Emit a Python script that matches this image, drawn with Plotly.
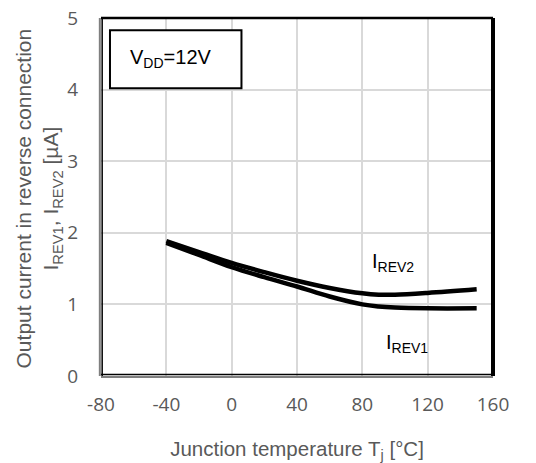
import plotly.graph_objects as go

# Junction temperature [°C]
temp = [-40, -20, 0, 20, 40, 60, 80, 90, 100, 120, 150]
# Reverse-connection output currents [µA]
i_rev1 = [1.86, 1.69, 1.52, 1.38, 1.25, 1.11, 1.0, 0.97, 0.955, 0.945, 0.945]
i_rev2 = [1.885, 1.73, 1.58, 1.45, 1.33, 1.23, 1.155, 1.135, 1.135, 1.16, 1.21]

x_ticks = [-80, -40, 0, 40, 80, 120, 160]
y_ticks = [0, 1, 2, 3, 4, 5]

FONT = "Liberation Sans, Arial, sans-serif"
TICK_FONT = "Open Sans, Calibri, sans-serif"
GREY = "#595959"

fig = go.Figure()
for ys in (i_rev1, i_rev2):
    fig.add_trace(go.Scatter(
        x=temp, y=ys, mode="lines",
        line=dict(color="black", width=4.5, shape="spline", smoothing=1.0),
        showlegend=False, hoverinfo="skip",
    ))

fig.update_layout(
    width=536, height=463,
    margin=dict(l=101, r=43, t=18, b=87),
    paper_bgcolor="white", plot_bgcolor="white",
    font=dict(family=FONT, color=GREY, size=17),
    xaxis=dict(
        range=[-80, 160], tickvals=x_ticks, ticktext=[str(v) for v in x_ticks],
        showgrid=True, gridcolor="#d9d9d9", gridwidth=1.5, zeroline=False,
        ticks="outside", ticklen=11, tickcolor="rgba(0,0,0,0)",
        tickfont=dict(size=19, color=GREY, family=TICK_FONT),
        title=dict(text="Junction temperature T<sub>j</sub> [°C]",
                   font=dict(size=20.5, color=GREY), standoff=25),
        automargin=False,
    ),
    yaxis=dict(
        range=[0, 5], tickvals=y_ticks,
        showgrid=True, gridcolor="#d9d9d9", gridwidth=1.5, zeroline=False,
        ticks="outside", ticklen=18, tickcolor="rgba(0,0,0,0)",
        tickfont=dict(size=19, color=GREY, family=TICK_FONT),
        automargin=False,
    ),
)

# Y-axis title, two rotated lines
fig.add_annotation(
    xref="paper", yref="paper", x=-0.159, y=0.495, xanchor="center", yanchor="middle",
    textangle=-90, showarrow=False,
    text="Output current in reverse connection<br>I<sub>REV1</sub>, I<sub>REV2</sub> [µA]",
    font=dict(size=21, color=GREY, family=FONT),
)

# Plot frame: double grey/black lines on left and bottom, black on top and right
fig.add_shape(type="line", xref="paper", yref="paper", x0=-0.003, x1=-0.003, y0=0, y1=1,
              line=dict(color="#7f7f7f", width=2))
fig.add_shape(type="line", xref="paper", yref="paper", x0=0.003, x1=0.003, y0=0, y1=1,
              line=dict(color="black", width=1.5))
fig.add_shape(type="line", xref="paper", yref="paper", x0=0, x1=1, y0=0.004, y1=0.004,
              line=dict(color="black", width=1.5))
fig.add_shape(type="line", xref="paper", yref="paper", x0=0, x1=1, y0=-0.003, y1=-0.003,
              line=dict(color="#7f7f7f", width=2))
fig.add_shape(type="line", xref="paper", yref="paper", x0=0, x1=1, y0=1, y1=1,
              line=dict(color="black", width=2.5))
fig.add_shape(type="line", xref="paper", yref="paper", x0=1, x1=1, y0=0, y1=1,
              line=dict(color="black", width=4))

# Supply voltage box
fig.add_shape(type="rect", xref="x", yref="y", x0=-74.5, x1=6, y0=4.02, y1=4.83,
              line=dict(color="black", width=2), fillcolor="white")
fig.add_annotation(x=-37, y=4.44, xref="x", yref="y", showarrow=False,
                   text="V<sub>DD</sub>=12V", font=dict(size=20, color="black", family=FONT))

# Curve labels
fig.add_annotation(x=99, y=1.59, xref="x", yref="y", showarrow=False,
                   text="I<sub>REV2</sub>", font=dict(size=20, color="black", family=FONT))
fig.add_annotation(x=107.5, y=0.46, xref="x", yref="y", showarrow=False,
                   text="I<sub>REV1</sub>", font=dict(size=20, color="black", family=FONT))

fig.write_html("out.html")
